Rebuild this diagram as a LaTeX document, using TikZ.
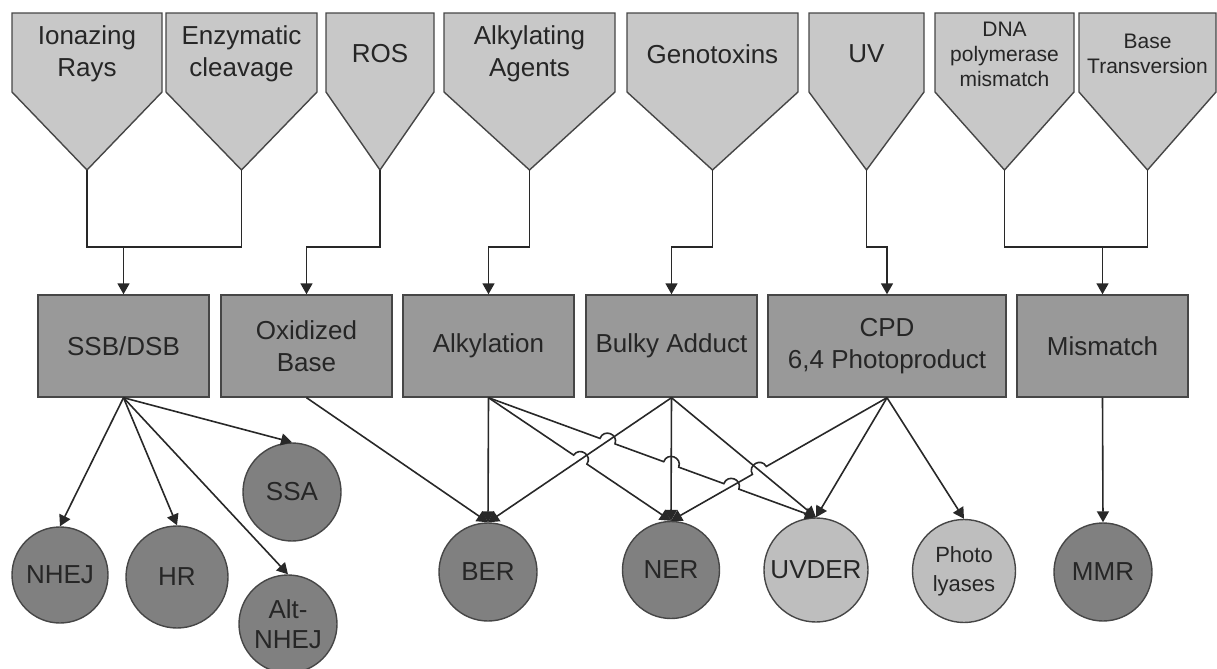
\documentclass[tikz,border=0pt]{standalone}
\usepackage{fontspec}
\setmainfont{Liberation Sans}
\usetikzlibrary{arrows.meta,calc,intersections}
\definecolor{srcfill}{RGB}{200,200,200}
\definecolor{boxfill}{RGB}{153,153,153}
\definecolor{darkfill}{RGB}{128,128,128}
\definecolor{lightfill}{RGB}{190,190,190}
\definecolor{edge}{RGB}{70,70,70}
\definecolor{txt}{RGB}{38,38,38}
\definecolor{wire}{RGB}{40,40,40}
\newcommand\dmgsrc[5]{%
  \draw[srcshape] (#2,13) -- (#3,13) -- (#3,92) -- ({(#2+#3)/2},170) -- (#2,92) -- cycle;
  \node[srctext,#5] (#1) at ({(#2+#3)/2},54) {#4};
  \coordinate (#1-tip) at ({(#2+#3)/2},170);
}
\begin{document}
\begin{tikzpicture}[x=0.5pt,y=-0.5pt,
  srcshape/.style={fill=srcfill,draw=edge,line width=0.7pt,line join=miter},
  srctext/.style={text=txt,align=center,inner sep=0pt,font=\fontsize{13}{16}\selectfont},
  small/.style={font=\fontsize{10.5}{12.5}\selectfont},
  dmgbox/.style={rectangle,fill=boxfill,draw=edge,line width=0.7pt,text=txt,align=center,
    minimum height=51pt,inner sep=0pt,font=\fontsize{13}{16}\selectfont},
  repair/.style={circle,fill=darkfill,draw=edge,line width=0.7pt,text=txt,align=center,
    inner sep=0pt,font=\fontsize{13}{15}\selectfont},
  lrepair/.style={repair,fill=lightfill},
  conn/.style={draw=wire,line width=0.8pt},
  arr/.style={conn,-{Triangle[width=6pt,length=5.5pt]}},
  hop/.style={bend left=90,looseness=1.7},
  hopr/.style={bend right=90,looseness=1.7}]
\useasboundingbox (0,0) rectangle (1217,669);

% damage sources
\dmgsrc{ion}{12}{162}{Ionazing\\Rays}{}
\dmgsrc{enz}{166}{317}{Enzymatic\\cleavage}{}
\dmgsrc{ros}{326}{434}{ROS}{}
\dmgsrc{alkag}{444}{615}{Alkylating\\Agents}{}
\dmgsrc{geno}{627}{798}{Genotoxins}{}
\dmgsrc{uv}{809}{924}{UV}{}
\dmgsrc{dna}{935}{1074}{DNA\\polymerase\\mismatch}{small}
\dmgsrc{bt}{1079}{1216}{Base\\Transversion}{small}

% damage types
\node[dmgbox,minimum width=85.5pt] (ssb) at (123.5,346) {SSB/DSB};
\node[dmgbox,minimum width=85.5pt] (oxb) at (306.5,346) {Oxidized\\Base};
\node[dmgbox,minimum width=85.5pt] (alk) at (488.5,346) {Alkylation};
\node[dmgbox,minimum width=85.5pt] (bulky) at (671.5,346) {Bulky Adduct};
\node[dmgbox,minimum width=119pt] (cpd) at (887,346) {CPD\\6,4 Photoproduct};
\node[dmgbox,minimum width=85.5pt] (mm) at (1102.5,346) {Mismatch};

% repair pathways
\node[repair,minimum size=48pt] (nhej) at (60,575) {NHEJ};
\node[repair,minimum size=51pt] (hr) at (177,577) {HR};
\node[repair,minimum size=49pt] (ssa) at (292,492) {SSA};
\node[repair,minimum size=49pt] (altn) at (288,624) {Alt-\\NHEJ};
\node[repair,minimum size=49pt] (ber) at (488,572) {BER};
\node[repair,minimum size=48.5pt] (ner) at (671,570) {NER};
\node[lrepair,minimum size=52pt] (uvder) at (816,570) {UVDER};
\node[lrepair,minimum size=51.5pt,font=\fontsize{11}{14.5}\selectfont] (photo) at (964,571) {Photo\\lyases};
\node[repair,minimum size=49pt] (mmr) at (1103,572) {MMR};

% sources to damage types
\coordinate (jrow) at (0,247);
\draw[conn] (ion-tip) |- (ssb.north |- jrow) -| (enz-tip);
\draw[arr] (ssb.north |- jrow) -- (ssb.north);
\draw[arr] (ros-tip) |- (oxb.north |- jrow) -- (oxb.north);
\draw[arr] (alkag-tip) |- (alk.north |- jrow) -- (alk.north);
\draw[arr] (geno-tip) |- (bulky.north |- jrow) -- (bulky.north);
\draw[arr] (uv-tip) |- (cpd.north |- jrow) -- (cpd.north);
\draw[conn] (dna-tip) |- (mm.north |- jrow) -| (bt-tip);
\draw[arr] (mm.north |- jrow) -- (mm.north);

% damage types to repair
\draw[arr] (ssb.south) -- (nhej.north);
\draw[arr] (ssb.south) -- (hr.north);
\draw[arr] (ssb.south) -- (altn.north);
\draw[arr] (ssb.south) -- (ssa.north);
\draw[arr] (oxb.south) -- (ber.north);
\draw[arr] (alk.south) -- (ber.north);
\draw[arr,name path=b1] (bulky.south) -- (ber.north);
\draw[arr,name path=b2] (bulky.south) -- (ner.north);
\draw[arr,name path=b3] (bulky.south) -- (uvder.north);
\path[name path=a1] (alk.south) -- (ner.north);
\path[name path=a2] (alk.south) -- (uvder.north);
\path[name path=c1] (cpd.south) -- (ner.north);
\path[name intersections={of=a1 and b1,by=xa1}];
\path[name intersections={of=a2 and b1,by=xa2}];
\path[name intersections={of=a2 and b2,by=xa3}];
\path[name intersections={of=a2 and c1,by=xa4}];
\path[name intersections={of=c1 and b3,by=xc1}];
\draw[arr] (alk.south) -- ($(xa1)!4pt!(alk.south)$) to[hop] ($(xa1)!4pt!(ner.north)$) -- (ner.north);
\draw[arr] (alk.south) -- ($(xa2)!4pt!(alk.south)$) to[hop] ($(xa2)!4pt!(uvder.north)$)
  -- ($(xa3)!4pt!(alk.south)$) to[hop] ($(xa3)!4pt!(uvder.north)$)
  -- ($(xa4)!4pt!(alk.south)$) to[hop] ($(xa4)!4pt!(uvder.north)$) -- (uvder.north);
\draw[arr] (cpd.south) -- ($(xc1)!4pt!(cpd.south)$) to[hopr] ($(xc1)!4pt!(ner.north)$) -- (ner.north);
\draw[arr] (cpd.south) -- (uvder.north);
\draw[arr] (cpd.south) -- (photo.north);
\draw[arr] (mm.south) -- (mmr.north);
\end{tikzpicture}
\end{document}
